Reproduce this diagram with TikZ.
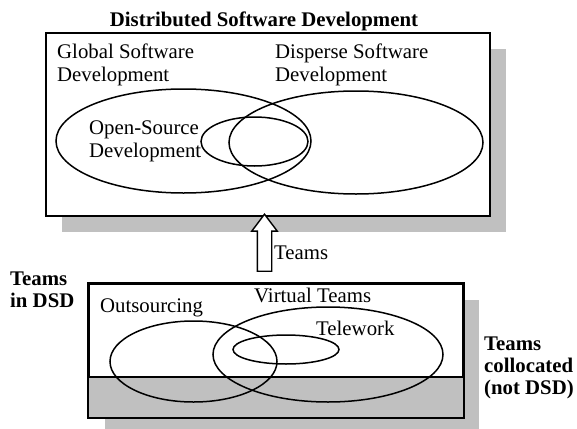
\documentclass[tikz,border=0pt]{standalone}
\usepackage{fontspec}
\setmainfont{Liberation Serif}
\usetikzlibrary{positioning,shapes.geometric,shapes.arrows,shadows}
\definecolor{shadegray}{RGB}{192,192,192}

\begin{document}
\begin{tikzpicture}[x=1pt, y=-1pt,
  frame/.style={draw=black, line width=1.6pt},
  boxed/.style={frame, fill=white, inner sep=0pt,
    drop shadow={shadow xshift=16pt, shadow yshift=-16pt, fill=shadegray, opacity=1}},
  set/.style={ellipse, draw=black, line width=1.5pt, inner sep=0pt},
  lbl/.style={anchor=base west, inner sep=0pt, align=left, font=\fontsize{20.8}{23}\selectfont},
  blbl/.style={lbl, font=\fontsize{20.8}{22}\selectfont\bfseries}]
  \useasboundingbox (0,0) rectangle (577,428);

  % upper box: distributed development
  \node[boxed, minimum width=444pt, minimum height=183pt] (DSD) at (268,124.5) {};
  \node[blbl, anchor=base] (DSDtitle) at (264,27) {Distributed Software Development};
  \node[lbl] (GSDtext) at (57,81) {Global Software\\Development};
  \node[lbl] (DispText) at (275,81) {Disperse Software\\Development};
  \node[lbl] (OSDtext) at (89,157) {Open-Source\\Development};
  \node[set, minimum width=255pt, minimum height=104pt] (GSD) at (183.5,141) {};
  \node[set, minimum width=254pt, minimum height=103pt] (Disp) at (356,142.5) {};
  \node[set, minimum width=107pt, minimum height=49pt] (OSD) at (254.5,141.5) {};

  % lower box: teams
  \node[boxed, minimum width=374pt, minimum height=133pt] (Teams) at (276,350.5) {};
  \draw[frame, fill=shadegray] (Teams.west |- 0,377) rectangle (Teams.south east);
  \draw[frame] (Teams.south west) rectangle (Teams.north east);
  \node[set, minimum width=167pt, minimum height=81pt] (Out) at (193.5,361.5) {};
  \node[set, minimum width=230pt, minimum height=95pt] (Virt) at (328,354.5) {};
  \node[set, minimum width=106pt, minimum height=29pt] (Tele) at (286,349.5) {};
  \node[lbl] (OutText) at (100,312) {Outsourcing};
  \node[lbl] (VirtText) at (254,302) {Virtual Teams};
  \node[lbl] (TeleText) at (316,335) {Telework};
  \node[blbl] (InDSD) at (10,307) {Teams\\in DSD};
  \node[blbl] (NotDSD) at (484,394) {Teams\\collocated\\(not DSD)};

  % generalisation arrow
  \node[single arrow, draw=black, line width=1.4pt, fill=white, shape border rotate=90,
    minimum height=57pt, minimum width=24pt, inner sep=6.5pt,
    single arrow head extend=5.5pt, single arrow tip angle=74] (up) at (264.5,247.5) {};
  \node[lbl] (upText) at (274,259) {Teams};
\end{tikzpicture}
\end{document}
